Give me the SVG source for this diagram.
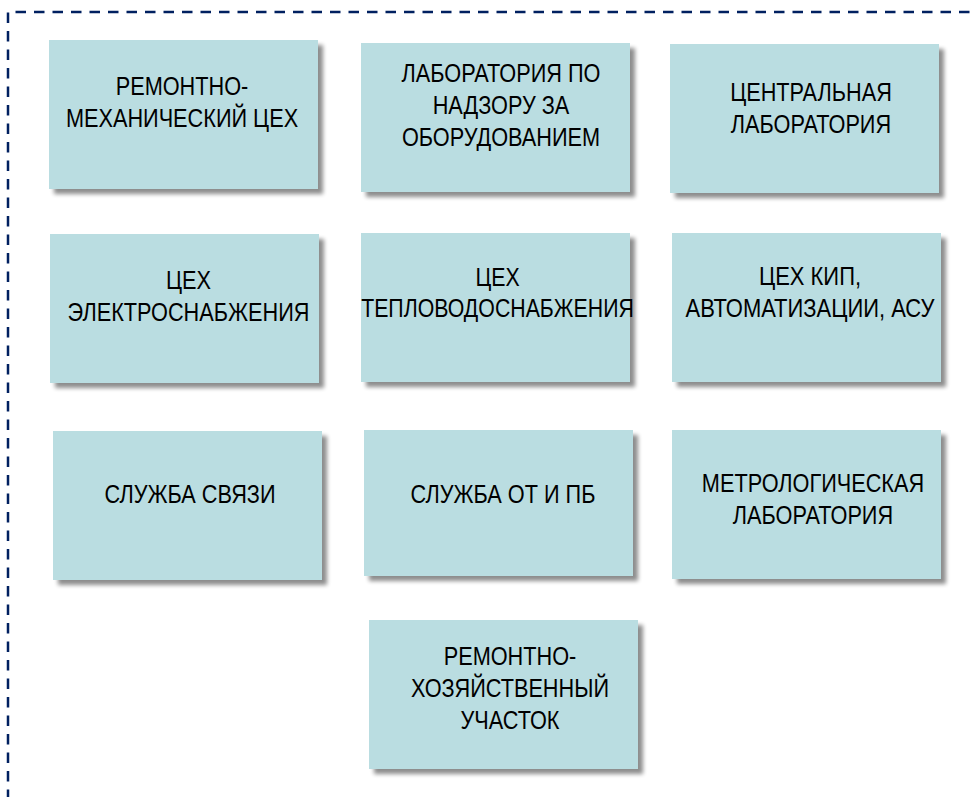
<svg xmlns="http://www.w3.org/2000/svg" width="972" height="797" viewBox="0 0 972 797">
<defs>
<filter id="sh" x="-10%" y="-10%" width="130%" height="130%">
<feGaussianBlur in="SourceAlpha" stdDeviation="2"/>
<feOffset dx="5" dy="5" result="b"/>
<feComponentTransfer><feFuncA type="linear" slope="0.45"/></feComponentTransfer>
<feMerge><feMergeNode/><feMergeNode in="SourceGraphic"/></feMerge>
</filter>
<style>
.box{fill:#badde1;filter:url(#sh)}
.t{font-family:"Liberation Sans",Arial,sans-serif;font-size:26px;fill:#000;text-anchor:middle}
.frame{fill:none;stroke:#002060;stroke-width:2.5;stroke-dasharray:10.5 8}
</style>
</defs>
<rect width="972" height="797" fill="#fff"/>
<path class="frame" d="M8,800 V12 H975"/>
<g id="connectors"/>
<g id="n1"><rect class="box" x="49" y="40" width="269" height="149"/>
<g transform="translate(182 0) scale(0.835 1)"><text class="t" x="0" y="95">РЕМОНТНО-</text><text class="t" x="0" y="127">МЕХАНИЧЕСКИЙ ЦЕХ</text></g></g>
<g id="n2"><rect class="box" x="361" y="43" width="269" height="149"/>
<g transform="translate(501 0) scale(0.835 1)"><text class="t" x="0" y="82">ЛАБОРАТОРИЯ ПО</text><text class="t" x="0" y="114.5">НАДЗОРУ ЗА</text><text class="t" x="0" y="146.5">ОБОРУДОВАНИЕМ</text></g></g>
<g id="n3"><rect class="box" x="670" y="44" width="269" height="149"/>
<g transform="translate(811 0) scale(0.835 1)"><text class="t" x="0" y="101">ЦЕНТРАЛЬНАЯ</text><text class="t" x="0" y="133.5">ЛАБОРАТОРИЯ</text></g></g>
<g id="n4"><rect class="box" x="50" y="234" width="269" height="149"/>
<g transform="translate(188.5 0) scale(0.835 1)"><text class="t" x="0" y="289">ЦЕХ</text><text class="t" x="0" y="321">ЭЛЕКТРОСНАБЖЕНИЯ</text></g></g>
<g id="n5"><rect class="box" x="361" y="233" width="269" height="149"/>
<g transform="translate(497.5 0) scale(0.82 1)"><text class="t" x="0" y="286.5">ЦЕХ</text><text class="t" x="0" y="317.5">ТЕПЛОВОДОСНАБЖЕНИЯ</text></g></g>
<g id="n6"><rect class="box" x="672" y="233" width="269" height="149"/>
<g transform="translate(810 0) scale(0.845 1)"><text class="t" x="0" y="285.5">ЦЕХ КИП,</text><text class="t" x="0" y="317.5">АВТОМАТИЗАЦИИ, АСУ</text></g></g>
<g id="n7"><rect class="box" x="53" y="431" width="269" height="149"/>
<g transform="translate(190 0) scale(0.835 1)"><text class="t" x="0" y="503">СЛУЖБА СВЯЗИ</text></g></g>
<g id="n8"><rect class="box" x="364" y="430" width="269" height="146"/>
<g transform="translate(503 0) scale(0.835 1)"><text class="t" x="0" y="503">СЛУЖБА ОТ И ПБ</text></g></g>
<g id="n9"><rect class="box" x="672" y="430" width="269" height="149"/>
<g transform="translate(813 0) scale(0.835 1)"><text class="t" x="0" y="492">МЕТРОЛОГИЧЕСКАЯ</text><text class="t" x="0" y="524">ЛАБОРАТОРИЯ</text></g></g>
<g id="n10"><rect class="box" x="369" y="620" width="269" height="149"/>
<g transform="translate(510 0) scale(0.835 1)"><text class="t" x="0" y="665">РЕМОНТНО-</text><text class="t" x="0" y="697">ХОЗЯЙСТВЕННЫЙ</text><text class="t" x="0" y="729">УЧАСТОК</text></g></g>
</svg>
